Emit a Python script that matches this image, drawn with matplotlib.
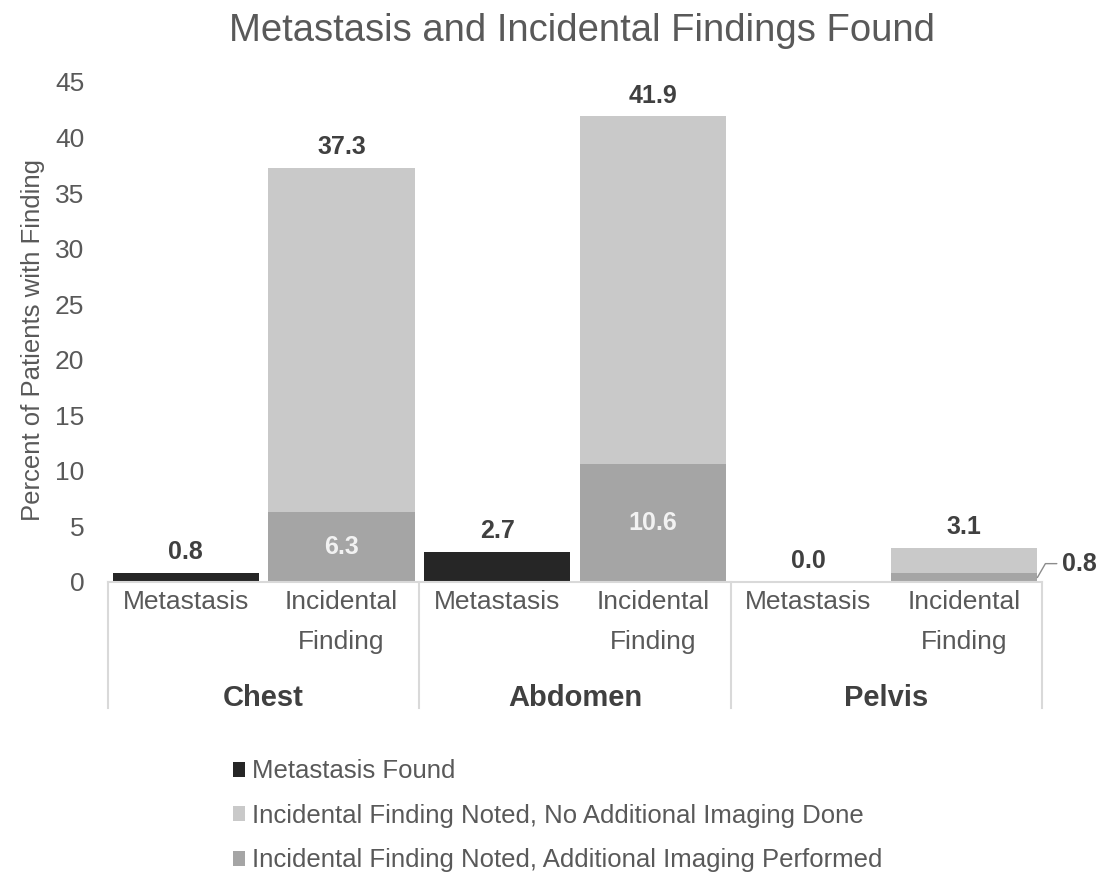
import numpy as np
import matplotlib
matplotlib.use("Agg")
import matplotlib.pyplot as plt
from matplotlib.transforms import blended_transform_factory

# percentages per body region
regions = ["Chest", "Abdomen", "Pelvis"]
bar_names = ["Metastasis", "Incidental\nFinding"]
metastasis = [0.8, 2.7, 0.0]
incidental_total = [37.3, 41.9, 3.1]
imaging_done = [6.3, 10.6, 0.8]

no_imaging = [t - d for t, d in zip(incidental_total, imaging_done)]

plt.rcParams["font.family"] = ["Liberation Sans", "DejaVu Sans"]
txt = "#595959"
lbl = "#404040"
c_met = "#262626"
c_light = "#c9c9c9"
c_mid = "#a5a5a5"
grid_c = "#d9d9d9"

fig = plt.figure(figsize=(11.17, 8.72), dpi=100)
ax = fig.add_axes([0.0967, 0.3326, 0.8362, 0.5734])

x_met = np.arange(len(regions)) * 2
x_inc = x_met + 1
w = 0.94

ax.bar(x_met, metastasis, width=w, color=c_met, label="Metastasis Found")
ax.bar(x_inc, no_imaging, width=w, bottom=imaging_done, color=c_light,
       label="Incidental Finding Noted, No Additional Imaging Done")
ax.bar(x_inc, imaging_done, width=w, color=c_mid,
       label="Incidental Finding Noted, Additional Imaging Performed")

# value labels
for x, v in zip(x_met, metastasis):
    ax.annotate(f"{v:.1f}", (x, v), xytext=(0, 15), textcoords="offset points",
                ha="center", va="center", fontsize=18, fontweight="bold", color=lbl)
for x, v in zip(x_inc, incidental_total):
    ax.annotate(f"{v:.1f}", (x, v), xytext=(0, 15), textcoords="offset points",
                ha="center", va="center", fontsize=18, fontweight="bold", color=lbl)
for x, v in zip(x_inc, imaging_done):
    if v >= 2:
        ax.text(x, v / 2, f"{v:.1f}", ha="center", va="center", fontsize=18,
                fontweight="bold", color="#f2f2f2")
    else:
        ax.annotate(f"{v:.1f}", (x + w / 2, v / 2), xytext=(18, 10),
                    textcoords="offset points", ha="left", va="center",
                    fontsize=18, fontweight="bold", color=lbl,
                    arrowprops=dict(arrowstyle="-", color="#8c8c8c", lw=1,
                                    shrinkA=2, shrinkB=0,
                                    connectionstyle="angle,angleA=0,angleB=60,rad=0"))

ax.set_xlim(-0.5, 5.5)
ax.set_ylim(0, 45)
ax.set_yticks(np.arange(0, 46, 5))
ax.set_ylabel("Percent of Patients with Finding", fontsize=18.5, color=txt)
ax.yaxis.set_label_coords(-0.067, 0.484)

ax.set_xticks(np.concatenate([[a, b] for a, b in zip(x_met, x_inc)]))
ax.set_xticklabels(bar_names * len(regions), fontsize=19, color=txt)
for t in ax.get_xticklabels():
    t.set_linespacing(1.85)
ax.tick_params(axis="x", length=0, pad=6)
ax.tick_params(axis="y", length=0, pad=17, labelsize=19, labelcolor=txt)
for s in ["top", "right", "left"]:
    ax.spines[s].set_visible(False)
ax.spines["bottom"].set_color(grid_c)
ax.spines["bottom"].set_linewidth(1.5)

# region separators and names under the axis
trans = blended_transform_factory(ax.transData, ax.transAxes)
for b in [-0.5, 1.5, 3.5, 5.5]:
    ax.plot([b, b], [0, -0.252], transform=trans, color=grid_c, lw=1.5, clip_on=False)
for i, r in enumerate(regions):
    ax.text(x_met[i] + 0.5, -0.233, r, transform=trans, ha="center", va="center",
            fontsize=21, fontweight="bold", color=lbl)

fig.text(0.521, 0.965, "Metastasis and Incidental Findings Found", ha="center",
         va="center", fontsize=27.5, color=txt)

fig.legend(loc="upper left", bbox_to_anchor=(0.199, 0.141), frameon=False,
           fontsize=18.5, labelcolor=txt, handlelength=0.5, handleheight=0.5,
           handletextpad=0.25, labelspacing=0.8, borderaxespad=0)

fig.savefig("out.png", dpi=100)
